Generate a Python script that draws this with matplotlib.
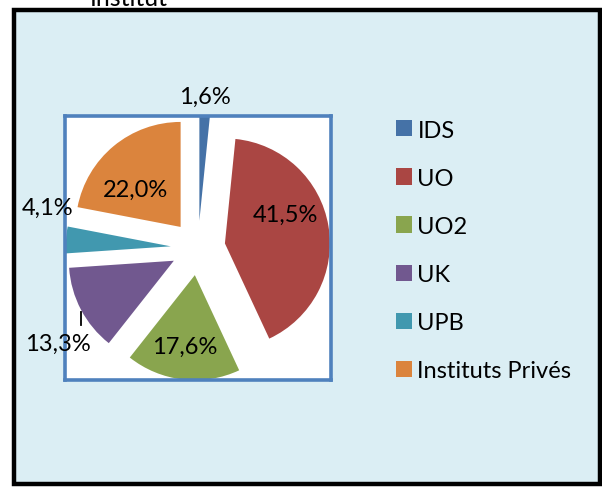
"""Exploded pie of enrolment share per institute (Excel-style chart)."""
import matplotlib.pyplot as plt
import numpy as np
from matplotlib.patches import Patch, Rectangle

plt.rcParams["font.family"] = ["Lato", "DejaVu Sans"]

# data
categories = ["IDS", "UO", "UO2", "UK", "UPB", "Instituts Privés"]
shares = [1.6, 41.5, 17.6, 13.3, 4.1, 22.0]
share_labels = ["1,6%", "41,5%", "17,6%", "13,3%", "4,1%", "22,0%"]
colors = ["#4572A7", "#AA4643", "#89A54E", "#71588F", "#4198AF", "#DB843D"]
title = "Institut"

# label layout (radius in pie units, angle nudge in degrees)
LABEL_R = [1.45, 0.89, 0.94, 1.62, 1.48, 0.82]
LABEL_DTH = [0.3, 11.3, -0.8, 6.5, -11.5, 7.3]

W, H = 602, 489
fig = plt.figure(figsize=(W / 100, H / 100), dpi=100, facecolor="white")


def px(x0, y0, x1, y1):
    """pixel box (top-left origin) -> figure fraction rect"""
    return [x0 / W, 1 - y1 / H, (x1 - x0) / W, (y1 - y0) / H]


# chart frame (behind the axes)
fig.patches.append(Rectangle((13.5 / W, 1 - 485 / H), (599.5 - 13.5) / W, (485 - 10.5) / H,
                             transform=fig.transFigure, facecolor="#DBEEF4",
                             edgecolor="black", linewidth=3.2, zorder=-1))
fig.text(129 / W, 1 - 6 / H, title, ha="center", va="baseline", fontsize=18)

ax = fig.add_axes(px(65, 117, 331, 381))
wedges, _ = ax.pie(shares, colors=colors, startangle=90, counterclock=False,
                   explode=[0.26] * len(shares), radius=1,
                   wedgeprops=dict(linewidth=0))
ax.set_frame_on(True)
ax.set_facecolor("white")
for s in ax.spines.values():
    s.set_color("#4F81BD")
    s.set_linewidth(2.6)
ax.set_aspect("auto")
ax.set_xlim(-1.267, 1.267)
ax.set_ylim(-1.257, 1.257)
ax.set_xticks([])
ax.set_yticks([])

for w, lab, r, dth in zip(wedges, share_labels, LABEL_R, LABEL_DTH):
    th = np.deg2rad((w.theta1 + w.theta2) / 2 + dth)
    ax.text(r * np.cos(th), r * np.sin(th), lab, ha="center", va="center",
            fontsize=17, clip_on=False)
    if lab == "13,3%":
        lx, ly = r * np.cos(th), r * np.sin(th)
        ax.plot([lx + 0.225, lx + 0.225], [ly + 0.18, ly + 0.305], color="black",
                linewidth=1.3, clip_on=False)

handles = [Patch(facecolor=c, edgecolor="none") for c in colors]
fig.legend(handles, categories, loc="upper left",
           bbox_to_anchor=(379 / W, 1 - 104 / H), frameon=False, fontsize=17,
           handlelength=0.68, handleheight=0.68, handletextpad=0.25,
           labelspacing=1.15, borderpad=0.2)

fig.savefig("out.png", dpi=100, facecolor="white")
